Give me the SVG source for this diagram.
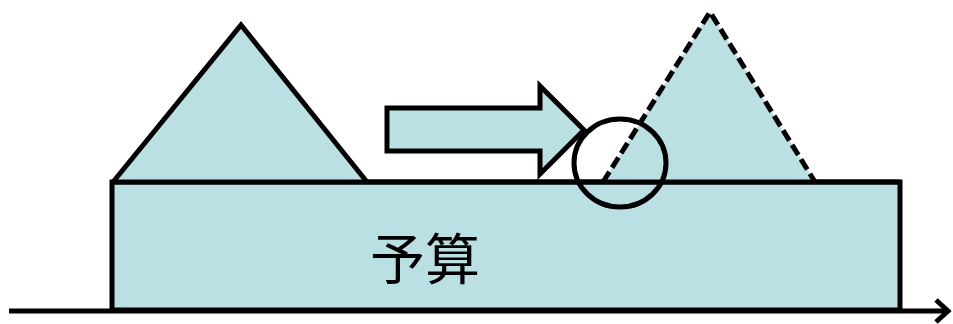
<svg xmlns="http://www.w3.org/2000/svg" width="953" height="324" viewBox="0 0 953 324">
<style>
.f{fill:#BAE0E3;stroke:#000;stroke-width:5;stroke-linejoin:miter}
.s{fill:none;stroke:#000;stroke-width:5}
.d{fill:none;stroke:#000;stroke-width:5;stroke-dasharray:12 5}
.t{font-family:"Noto Sans CJK JP","Noto Sans CJK SC",sans-serif;font-size:55px;fill:#000}
</style>
<g id="budget">
<rect class="f" x="112" y="182" width="788" height="128"/>
<text class="t" x="425" y="279" text-anchor="middle">予算</text>
</g>
<g id="triangle-left">
<polygon points="113,182 241,25 367,182" style="fill:#BAE0E3;stroke:none"/>
<polyline class="s" points="113,182 241,25 367,182"/>
</g>
<g id="triangle-right">
<polygon points="603,182 710,12 815,182" style="fill:#BAE0E3;stroke:none"/>
<polyline class="d" points="603,182 710,12 815,182"/>
</g>
<g id="budget-top"><line class="s" x1="112" y1="182" x2="900" y2="182"/></g>
<g id="arrow">
<polygon class="f" points="387,108 540,108 540,86 584,130 540,174 540,151 387,151"/>
</g>
<g id="circle"><ellipse class="s" cx="620" cy="163" rx="46" ry="44"/></g>
<g id="connectors">
<line class="s" x1="9" y1="311" x2="948" y2="311"/>
<polyline class="s" points="936,300 948,311 936,322"/>
</g>
</svg>
